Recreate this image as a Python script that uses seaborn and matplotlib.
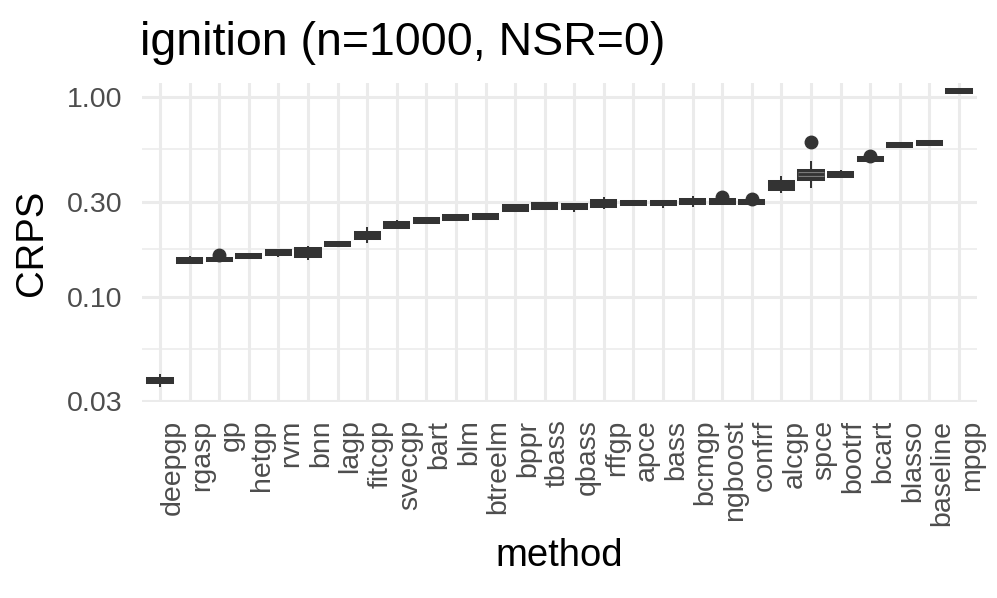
import numpy as np
import pandas as pd
import matplotlib
matplotlib.use("Agg")
import matplotlib.pyplot as plt
import matplotlib.patheffects as pe
import seaborn as sns

# ---------------- data (CRPS per method) ----------------
methods = ["deepgp", "rgasp", "gp", "hetgp", "rvm", "bnn", "lagp", "fitcgp",
           "svecgp", "bart", "blm", "btreelm", "bppr", "tbass", "qbass", "rffgp",
           "apce", "bass", "bcmgp", "ngboost", "confrf", "alcgp", "spce", "bootrf",
           "bcart", "blasso", "baseline", "mpgp"]

deepgp   = [0.0351, 0.0367, 0.0379, 0.0391, 0.0408]
rgasp    = [0.1476, 0.1483, 0.1522, 0.1563, 0.1600]
gp       = [0.1505, 0.1505, 0.1505, 0.1531, 0.1558, 0.1558, 0.1618]
hetgp    = [0.1553, 0.1558, 0.1596, 0.1637, 0.1645]
rvm      = [0.1581, 0.1626, 0.1670, 0.1715, 0.1725]
bnn      = [0.1528, 0.1589, 0.1670, 0.1754, 0.1796]
lagp     = [0.1786, 0.1796, 0.1838, 0.1880, 0.1891]
fitcgp   = [0.1853, 0.1956, 0.2039, 0.2118, 0.2228]
svecgp   = [0.2196, 0.2203, 0.2280, 0.2359, 0.2425]
bart     = [0.2330, 0.2334, 0.2405, 0.2481, 0.2487]
blm      = [0.2410, 0.2416, 0.2490, 0.2569, 0.2575]
btreelm  = [0.2460, 0.2464, 0.2530, 0.2599, 0.2605]
bppr     = [0.2685, 0.2691, 0.2791, 0.2892, 0.2900]
tbass    = [0.2748, 0.2754, 0.2856, 0.2960, 0.2966]
qbass    = [0.2651, 0.2745, 0.2827, 0.2916, 0.2925]
rffgp    = [0.2754, 0.2818, 0.2934, 0.3055, 0.3162]
apce     = [0.2868, 0.2873, 0.2951, 0.3030, 0.3036]
bass     = [0.2776, 0.2873, 0.2951, 0.3030, 0.3036]
bcmgp    = [0.2818, 0.2906, 0.2995, 0.3090, 0.3199]
ngboost  = [0.2916, 0.2916, 0.2916, 0.2995, 0.3079, 0.3079, 0.3162]
confrf   = [0.2916, 0.2916, 0.2916, 0.2978, 0.3044, 0.3044, 0.3100]
alcgp    = [0.3302, 0.3418, 0.3591, 0.3787, 0.4044]
spce     = [0.3521, 0.3700, 0.3848, 0.4000, 0.4124, 0.4200, 0.4334, 0.4793, 0.5969]
bootrf   = [0.3978, 0.3984, 0.4091, 0.4201, 0.4318]
bcart    = [0.4792, 0.4792, 0.4792, 0.4904, 0.5019, 0.5019, 0.5105]
blasso   = [0.5620, 0.5631, 0.5762, 0.5899, 0.5910]
baseline = [0.5750, 0.5762, 0.5899, 0.6036, 0.6050]
mpgp     = [1.0450, 1.0473, 1.0729, 1.1006, 1.1030]

# methods whose single high point sits right on top of the box
tight_methods = ["gp", "ngboost", "confrf", "bcart"]

y_major = [0.03, 0.10, 0.30, 1.00]
y_major_labels = ["0.03", "0.10", "0.30", "1.00"]
y_minor = [0.0548, 0.1732, 0.5477]

title = "ignition (n=1000, NSR=0)"

values_by_method = [deepgp, rgasp, gp, hetgp, rvm, bnn, lagp, fitcgp, svecgp, bart,
                    blm, btreelm, bppr, tbass, qbass, rffgp, apce, bass, bcmgp,
                    ngboost, confrf, alcgp, spce, bootrf, bcart, blasso, baseline, mpgp]
rows = []
for m, vals in zip(methods, values_by_method):
    for v in vals:
        rows.append((m, v))
df = pd.DataFrame(rows, columns=["method", "CRPS"])
df_main = df[~df["method"].isin(tight_methods)]
df_tight = df[df["method"].isin(tight_methods)]

# ---------------- style ----------------
sns.set_theme(style="white")
plt.rcParams["font.family"] = ["Liberation Sans", "DejaVu Sans"]

fig = plt.figure(figsize=(9.97, 5.98), dpi=100)
ax = fig.add_axes([142.2 / 997, 1 - 401.5 / 598, (976.8 - 142.2) / 997, (401.5 - 83.3) / 598])

dark = "#333333"
common = dict(x="method", y="CRPS", order=methods, ax=ax, color=dark, saturation=1,
              width=0.85, linewidth=1.45, linecolor=dark, showcaps=False, log_scale=True,
              flierprops=dict(marker="o", markerfacecolor=dark, markeredgecolor=dark,
                              markersize=9))
sns.boxplot(data=df_main, whis=1.5, **common)
sns.boxplot(data=df_tight, whis=0.2, **common)

ax.set_yscale("log")
ax.set_ylim(0.02981, 1.1754)
ax.set_xlim(-0.6, len(methods) - 1 + 0.6)
ax.set_yticks(y_major)
ax.set_yticklabels(y_major_labels)
ax.set_yticks(y_minor, minor=True)
ax.yaxis.set_minor_formatter(matplotlib.ticker.NullFormatter())

# lighter rim on the median of the tall spce box
spce_idx = methods.index("spce")
for ln in ax.lines:
    xd = np.asarray(ln.get_xdata(), dtype=float)
    yd = np.asarray(ln.get_ydata(), dtype=float)
    if len(xd) == 2 and abs(xd.mean() - spce_idx) < 0.01 and abs(yd[0] - yd[1]) < 1e-12 \
            and abs(xd[1] - xd[0]) > 0.5:
        ln.set_linewidth(2.0)
        ln.set_path_effects([pe.Stroke(linewidth=3.6, foreground="#7a7a7a"), pe.Normal()])

ax.set_axisbelow(True)
ax.grid(True, which="major", axis="both", color="#EBEBEB", linewidth=2.2)
ax.grid(True, which="minor", axis="y", color="#EBEBEB", linewidth=1.1)
for s in ax.spines.values():
    s.set_visible(False)

ax.tick_params(axis="both", which="both", length=0, colors="#4D4D4D", labelsize=20.5)
ax.tick_params(axis="y", pad=14)
ax.tick_params(axis="x", pad=13)
for lab in ax.get_xticklabels():
    lab.set_rotation(90)
    lab.set_ha("left")
    lab.set_va("top")

ax.set_xlabel("method", fontsize=27.5, color="black", labelpad=9)
ax.set_ylabel("CRPS", fontsize=27.5, color="black", labelpad=12.5)

fig.text(140 / 997, 1 - 55 / 598, title, fontsize=33.5, color="black",
         ha="left", va="baseline")

fig.savefig("out.png", dpi=100)
